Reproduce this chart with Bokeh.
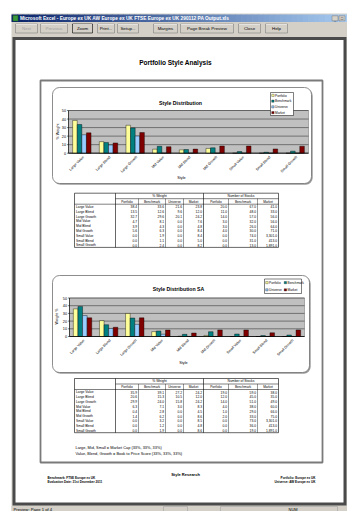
from math import pi

from bokeh.plotting import figure
from bokeh.models import Range1d, ColumnDataSource
from bokeh.core.properties import value
from bokeh.transform import dodge
from bokeh.embed import file_html
from bokeh.resources import INLINE

W, H = 347, 511
FONT = value("Liberation Sans")

# ---------------------------------------------------------------- data
styles = ["Large Value", "Large Blend", "Large Growth", "Mid Value", "Mid Blend",
          "Mid Growth", "Small Value", "Small Blend", "Small Growth"]
series_names = ["Portfolio", "Benchmark", "Universe", "Market"]
series_cols = ["portfolio", "benchmark", "universe", "market"]
series_colors = ["#FFFF99", "#008080", "#99CCFF", "#800000"]
weight_ticks = [0, 10, 20, 30, 40, 50]

# Style Distribution: % weight per style box
sd_portfolio = [38.4, 13.5, 32.7, 4.7, 3.9, 5.6, 0.0, 0.0, 0.0]
sd_benchmark = [33.6, 12.6, 29.6, 8.1, 4.3, 6.3, 1.9, 1.1, 2.4]
sd_universe = [21.6, 9.6, 20.1, 0.0, 0.0, 0.0, 0.0, 0.0, 0.0]
sd_market = [23.8, 12.0, 24.2, 7.6, 4.8, 8.4, 8.4, 5.0, 8.2]
# Style Distribution: number of stocks
sd_n_portfolio = [20.0, 11.0, 14.0, 3.0, 3.0, 4.0, 0.0, 0.0, 0.0]
sd_n_benchmark = [67.0, 48.0, 57.0, 32.0, 26.0, 30.0, 74.0, 31.0, 13.0]
sd_n_market = [41.0, 33.0, 56.0, 56.0, 64.0, 71.0, 3301.0, 413.0, 1891.0]

# Style Distribution SA: % weight per style box
sa_portfolio = [35.9, 20.6, 29.9, 6.3, 0.4, 1.4, 0.0, 0.0, 0.0]
sa_benchmark = [39.1, 15.3, 24.0, 7.1, 2.8, 6.2, 3.2, 1.2, 1.9]
sa_universe = [27.2, 10.5, 15.8, 3.0, 0.0, 0.0, 0.0, 0.0, 0.0]
sa_market = [24.2, 12.0, 24.2, 8.3, 4.5, 8.6, 8.5, 4.8, 8.6]
# Style Distribution SA: number of stocks
sa_n_portfolio = [19.0, 12.0, 14.0, 4.0, 1.0, 2.0, 0.0, 0.0, 0.0]
sa_n_benchmark = [59.0, 45.0, 51.0, 38.0, 29.0, 33.0, 73.0, 36.0, 19.0]
sa_n_market = [38.0, 35.0, 49.0, 60.0, 66.0, 75.0, 3301.0, 413.0, 1891.0]

weight_headers = ["Portfolio", "Benchmark", "Universe", "Market"]
count_headers = ["Portfolio", "Benchmark", "Market"]

toolbar_buttons = ["Next", "Previous", "Zoom", "Print...", "Setup...", "Margins",
                   "Page Break Preview", "Close", "Help"]

# ---------------------------------------------------------------- canvas
p = figure(width=W, height=H, x_range=Range1d(0, W), y_range=Range1d(H, 0),
           output_backend="svg", toolbar_location=None, min_border=0,
           x_axis_location=None, y_axis_location=None)
p.outline_line_color = None
p.background_fill_color = "white"
p.border_fill_color = "white"
p.grid.visible = False


def txt(x, y, s, size, color="black", align="left", baseline="middle",
        bold=False, angle=0.0, font=FONT):
    p.text(x=[x], y=[y], text=[s], text_font=font, text_font_size=f"{size}px",
           text_color=color, text_align=align, text_baseline=baseline,
           text_font_style="bold" if bold else "normal", angle=angle)


def box(l, t, r, b, fill, line=None, lw=1.0, **kw):
    p.quad(left=[l], right=[r], top=[t], bottom=[b], fill_color=fill,
           line_color=line, line_width=lw, **kw)


# ---------------------------------------------------------------- window chrome
WX0 = 11
box(WX0, 13, W, 511, "#D4D0C8")

# title bar with the classic blue gradient
steps = 60
c0, c1 = (10, 36, 106), (166, 202, 240)
span = (W - WX0) / steps
for i in range(steps):
    f = i / (steps - 1)
    col = "#%02x%02x%02x" % tuple(int(a + (b_ - a) * f) for a, b_ in zip(c0, c1))
    box(WX0 + i * span, 14, WX0 + (i + 1) * span + 0.5, 21.5, col)
box(12.5, 15, 17.5, 20.5, "#3C9A3C", "#1F5F1F", 0.5)
txt(19.5, 17.9, "Microsoft Excel - Europe ex UK AW Europe ex UK FTSE Europe ex UK 290112 PA Output.xls",
    4.8, color="white", bold=True)
for bx in (331.5, 338.5):
    box(bx, 15.3, bx + 6, 20.3, "#D4D0C8", "#606060", 0.4)
txt(334.5, 18.5, "_", 4, align="center")
txt(341.5, 17.9, "\u25a1", 4, align="center")

# toolbar buttons
btn_x = [(15, 37), (40, 67), (72, 92), (97, 114), (117, 138), (153, 177),
         (180, 233), (238, 260), (265, 287)]
for (l, r), name in zip(btn_x, toolbar_buttons):
    grey = name in ("Next", "Previous")
    box(l, 23.5, r, 32.5, "#D4D0C8", "#000000" if name == "Zoom" else "#808080", 0.6)
    p.segment(x0=[l + 0.5], y0=[24], x1=[r - 0.5], y1=[24], line_color="white", line_width=0.6)
    txt((l + r) / 2, 28.2, name, 4.4, color="#A0A0A0" if grey else "black", align="center")

# client area: dark frame and the preview page
box(12, 36.5, 346, 505, "#4A4A4A")
box(15, 39.5, 343, 502, "white")

# status bar
box(WX0, 505.5, W, 511, "#D4D0C8")
txt(13, 508.5, "Preview: Page 1 of 4", 4.2)
box(163, 506, 187, 511, "#D4D0C8", "#9A9A9A", 0.5)
box(220, 506, 337, 511, "#D4D0C8", "#9A9A9A", 0.5)
txt(288, 508.7, "NUM", 4.0)

# ---------------------------------------------------------------- page contents
txt(175, 61.5, "Portfolio Style Analysis", 6.5, bold=True, align="center")
box(40, 80, 322, 462, None, "#7A7A7A", 1.8, fill_alpha=0)


def draw_chart(key, frame, plot_x, plot_y, vmax, ticks, data, title, title_xy,
               ytitle, ytitle_xy, xtitle_xy, legend_box, legend_cols):
    n = len(styles)
    x0, x1 = plot_x
    pix0, pixmax = plot_y
    w = (x1 - x0) / n
    xs = -(x0 + 0.5 * w) / w
    k = (pix0 - pixmax) / vmax
    ye = pix0 / k
    xr, yr = key + "_x", key + "_y"
    p.extra_x_ranges = {**p.extra_x_ranges, xr: Range1d(xs, xs + W / w)}
    p.extra_y_ranges = {**p.extra_y_ranges, yr: Range1d(ye - H / k, ye)}

    # rounded chart area with a soft shadow
    l, t, r, b = frame
    p.quad(left=[l + 1.2], right=[r + 1.2], top=[t + 1.2], bottom=[b + 1.2],
           fill_color="#9A9A9A", line_color=None, border_radius=7)
    p.quad(left=[l], right=[r], top=[t], bottom=[b], fill_color="white",
           line_color="#707070", line_width=0.8, border_radius=7)

    txt(title_xy[0], title_xy[1], title, 5.2, bold=True, align="center")

    # plot area, gridlines and axes
    p.quad(left=[x0], right=[x1], bottom=[0], top=[vmax], fill_color="#C0C0C0",
           line_color="#808080", line_width=0.6, y_range_name=yr)
    p.segment(x0=[x0] * len(ticks), x1=[x1] * len(ticks), y0=ticks, y1=ticks,
              line_color="#202020", line_width=0.5, y_range_name=yr)
    p.segment(x0=[x0 - 1.5] * len(ticks), x1=[x0] * len(ticks), y0=ticks, y1=ticks,
              line_color="black", line_width=0.5, y_range_name=yr)
    p.segment(x0=[x0], x1=[x0], y0=[0], y1=[vmax], line_color="black",
              line_width=0.6, y_range_name=yr)
    p.text(x=[x0 - 2.5] * len(ticks), y=ticks, text=[str(t_) for t_ in ticks],
           text_font=FONT, text_font_size="3.8px", text_align="right",
           text_baseline="middle", y_range_name=yr)

    src = ColumnDataSource(dict(idx=list(range(n)), style=styles,
                                **{c: v for c, v in zip(series_cols, data)}))
    bw = 4.6 / w
    for j, (col, color) in enumerate(zip(series_cols, series_colors)):
        p.vbar(x=dodge("idx", (j - 1.5) * bw, range=None), top=col, bottom=0,
               width=bw, fill_color=color, line_color="black", line_width=0.4,
               source=src, x_range_name=xr, y_range_name=yr)
    p.segment(x0=[-0.5], x1=[n - 0.5], y0=[0], y1=[0], line_color="black",
              line_width=0.7, x_range_name=xr, y_range_name=yr)
    p.text(x="idx", y=0, text="style", source=src, text_font=FONT,
           text_font_size="3.6px", text_align="right", text_baseline="middle",
           angle=pi / 4, x_offset=1.5, y_offset=3.5, x_range_name=xr, y_range_name=yr)

    txt(ytitle_xy[0], ytitle_xy[1], ytitle, 3.8, align="center", angle=pi / 2)
    txt(xtitle_xy[0], xtitle_xy[1], "Style", 3.8, align="center")

    # legend
    ll, lt, lr, lb = legend_box
    box(ll, lt, lr, lb, "white", "black", 0.5)
    rows = (len(series_names) + legend_cols - 1) // legend_cols
    cw = (lr - ll) / legend_cols
    rh = (lb - lt) / rows
    for j, (name, color) in enumerate(zip(series_names, series_colors)):
        cx = ll + (j % legend_cols) * cw
        cy = lt + (j // legend_cols + 0.5) * rh
        box(cx + 1.2, cy - 1.1, cx + 3.6, cy + 1.1, color, "black", 0.3)
        txt(cx + 4.6, cy + 0.1, name, 3.2)


def draw_table(top, weights, counts):
    cols = [74, 115, 138, 165, 183, 203, 228, 257, 278]
    hh, rh = 5.5, 4.8
    n = len(styles)
    bottom = top + 2 * hh + n * rh
    box(cols[0], top, cols[-1], bottom, "white", "black", 0.6)
    # header rules
    p.segment(x0=[cols[1], cols[0]], x1=[cols[-1], cols[-1]],
              y0=[top + hh, top + 2 * hh], y1=[top + hh, top + 2 * hh],
              line_color="black", line_width=0.5)
    for i, cx in enumerate(cols[1:-1], start=1):
        y_start = top if i in (1, 5) else top + hh
        p.segment(x0=[cx], x1=[cx], y0=[y_start], y1=[bottom],
                  line_color="black", line_width=0.6 if i in (1, 5) else 0.4)
    txt((cols[1] + cols[5]) / 2, top + hh / 2 + 0.2, "% Weight", 3.4, align="center")
    txt((cols[5] + cols[8]) / 2, top + hh / 2 + 0.2, "Number of Stocks", 3.4, align="center")
    heads = weight_headers + count_headers
    for i, h in enumerate(heads):
        txt((cols[i + 1] + cols[i + 2]) / 2, top + 1.5 * hh + 0.2, h, 3.2, align="center")
    cy = [top + 2 * hh + (r + 0.5) * rh + 0.2 for r in range(n)]
    p.text(x=[cols[0] + 1.5] * n, y=cy, text=styles, text_font=FONT,
           text_font_size="3.3px", text_baseline="middle")
    for i, series in enumerate(list(weights) + list(counts)):
        labels = [f"{v:,.1f}" for v in series]
        p.text(x=[cols[i + 2] - 1.5] * n, y=cy, text=labels, text_font=FONT,
               text_font_size="3.3px", text_align="right", text_baseline="middle")


draw_chart("sd", (52, 87, 311, 183), (68, 308), (152.7, 110.0), 50, weight_ticks,
           [sd_portfolio, sd_benchmark, sd_universe, sd_market],
           "Style Distribution", (180, 102.5), "% Weight", (57, 131), (181, 177.5),
           (270, 92, 293, 115), 1)
draw_table(192.7, [sd_portfolio, sd_benchmark, sd_universe, sd_market],
           [sd_n_portfolio, sd_n_benchmark, sd_n_market])

draw_chart("sa", (52, 275, 309, 372), (69, 304), (336.0, 297.5), 50, weight_ticks,
           [sa_portfolio, sa_benchmark, sa_universe, sa_market],
           "Style Distribution SA", (178, 288.5), "Weight %", (56, 316), (183, 362),
           (264, 278.5, 301, 293), 2)
draw_table(378, [sa_portfolio, sa_benchmark, sa_universe, sa_market],
           [sa_n_portfolio, sa_n_benchmark, sa_n_market])

# notes and page footer
txt(75, 446.8, "Large, Mid, Small = Market Cap (33%, 33%, 33%)", 3.9)
txt(75, 453.4, "Value, Blend, Growth = Book to Price Score (33%, 33%, 33%)", 3.9)
txt(185, 474, "Style Research", 4.0, align="center", bold=True)
txt(47, 477, "Benchmark: FTSE Europe ex UK", 3.1, bold=True)
txt(47, 481, "Evaluation Date: 31st December 2011", 3.1, bold=True)
txt(315, 477, "Portfolio: Europe ex UK", 3.1, align="right", bold=True)
txt(315, 481, "Universe: AW Europe ex UK", 3.1, align="right", bold=True)

open("out.html", "w").write(file_html(p, INLINE))
